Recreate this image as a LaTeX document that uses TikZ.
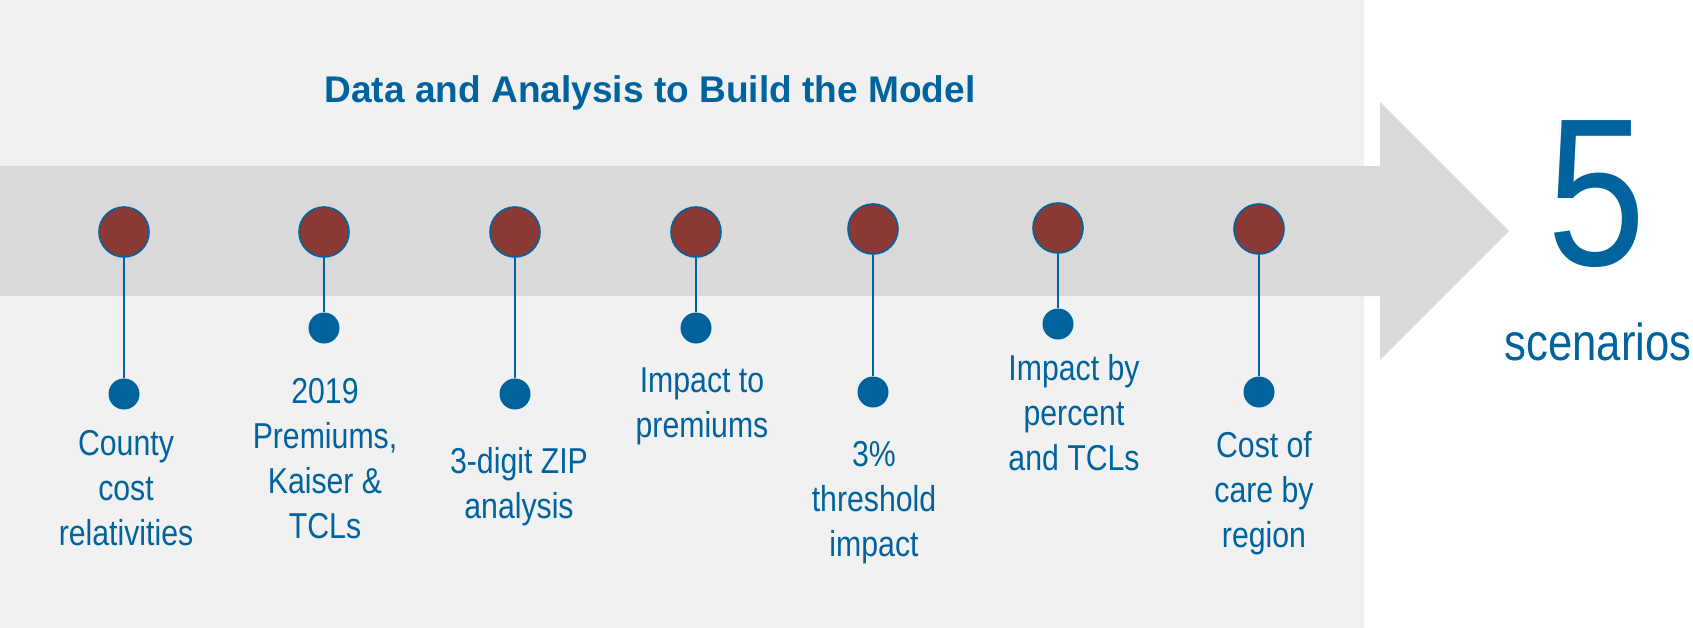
\documentclass[tikz,border=0pt]{standalone}
\usepackage{fontspec}
\setmainfont{Liberation Sans}
\newfontfamily\narrowfont{Liberation Sans}[FakeStretch=0.84]
\definecolor{panelgray}{RGB}{241,241,241}
\definecolor{bandgray}{RGB}{217,217,217}
\definecolor{brandblue}{RGB}{0,99,158}
\definecolor{stepred}{RGB}{139,57,52}
% centred lines, aligned on the baseline of the first line
\newcommand\labellines[1]{\begin{tabular}[t]{@{}c@{}}#1\end{tabular}}
\tikzset{
  milestone/.style={circle, inner sep=0pt, minimum size=37.5pt, fill=stepred, draw=brandblue, line width=1.2pt},
  pin/.style={circle, inner sep=0pt, minimum size=23.25pt, fill=brandblue},
  stem/.style={draw=brandblue, line width=1.3pt},
  steplabel/.style={anchor=base, inner sep=0pt, text=brandblue,
    font=\narrowfont\fontsize{27pt}{33.75pt}\selectfont}
}
\begin{document}
\begin{tikzpicture}[x=0.75pt, y=-0.75pt]
  \useasboundingbox (0,0) rectangle (1693,628);
  % background panel and timeline arrow
  \fill[panelgray] (0,0) rectangle (1364,628);
  \fill[bandgray] (0,166) -- (1380,166) -- (1380,102) -- (1509,231)
    -- (1380,360) -- (1380,296) -- (0,296) -- cycle;
  % heading
  \node[anchor=base, inner sep=0pt, text=brandblue, font=\bfseries\fontsize{27.8pt}{34pt}\selectfont]
    (title) at (650,102) {Data and Analysis to Build the Model};
  % milestones on the band
  \node[milestone] (c1) at (124,232) {};
  \node[milestone] (c2) at (324,232) {};
  \node[milestone] (c3) at (515,232) {};
  \node[milestone] (c4) at (696,232) {};
  \node[milestone] (c5) at (873,229) {};
  \node[milestone] (c6) at (1058,228) {};
  \node[milestone] (c7) at (1259,229) {};
  % pins below
  \node[pin] (d1) at (124,394) {};
  \node[pin] (d2) at (324,328) {};
  \node[pin] (d3) at (515,394) {};
  \node[pin] (d4) at (696,328) {};
  \node[pin] (d5) at (873,392) {};
  \node[pin] (d6) at (1058,324) {};
  \node[pin] (d7) at (1259,392) {};
  \foreach \i in {1,...,7} \draw[stem] (c\i) -- (d\i);
  % step labels
  \node[steplabel] (l1) at (126,455) {\labellines{County\\cost\\relativities}};
  \node[steplabel] (l2) at (325,403) {\labellines{2019\\Premiums,\\Kaiser \&\\TCLs}};
  \node[steplabel] (l3) at (519,473) {\labellines{3-digit ZIP\\analysis}};
  \node[steplabel] (l4) at (702,392) {\labellines{Impact to\\premiums}};
  \node[steplabel] (l5) at (874,466) {\labellines{3\%\\threshold\\impact}};
  \node[steplabel] (l6) at (1074,380) {\labellines{Impact by\\percent\\and TCLs}};
  \node[steplabel] (l7) at (1264,457) {\labellines{Cost of\\care by\\region}};
  % outcome
  \node[anchor=base, inner sep=0pt, text=brandblue, font=\narrowfont\fontsize{158pt}{160pt}\selectfont]
    (five) at (1597,265) {5};
  \node[anchor=base, inner sep=0pt, text=brandblue, font=\narrowfont\fontsize{39pt}{44pt}\selectfont]
    (scen) at (1598,360) {scenarios};
\end{tikzpicture}
\end{document}
